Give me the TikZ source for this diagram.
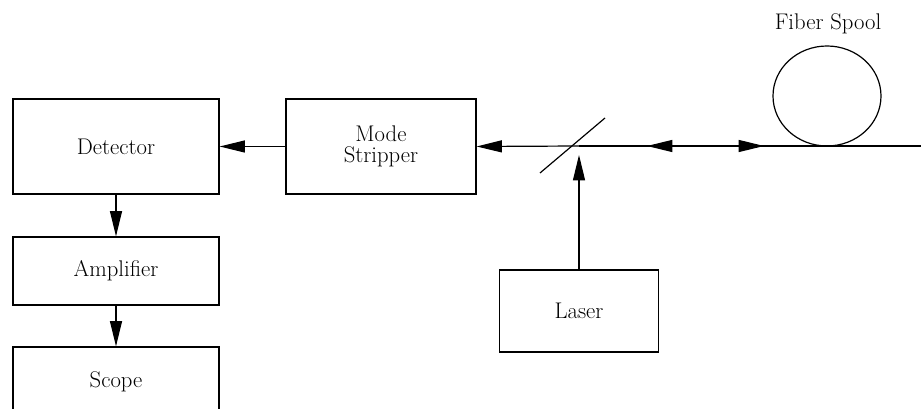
\documentclass[tikz,border=0pt]{standalone}
\usetikzlibrary{arrows.meta}
\begin{document}
\begin{tikzpicture}[x=0.75pt,y=-0.75pt,line width=0.9pt,
  lbl/.style={font=\fontsize{17}{15.5}\selectfont},
  box/.style={draw,inner sep=0pt,align=center,lbl},
  tri/.style={-{Triangle[length=19pt,width=9pt]}}]
\useasboundingbox (0,0) rectangle (921,409);
\clip (0,0) rectangle (921,409);
\node[box,minimum width=154.5pt,minimum height=71.25pt] (det) at (116,146.5) {Detector};
\node[box,minimum width=142.5pt,minimum height=71.25pt] (mode) at (381,146.5) {Mode\\Stripper};
\node[box,minimum width=154.5pt,minimum height=51pt] (amp) at (116,271) {Amplifier};
\node[box,minimum width=154.5pt,minimum height=52.5pt] (scope) at (116,382) {Scope};
\node[box,minimum width=119.25pt,minimum height=61.5pt] (laser) at (579,311) {Laser};
\coordinate (m) at (579,146);
\coordinate (ma) at (540,173);
\coordinate (mb) at (605,118);
\coordinate (lt) at (579,155);
\coordinate (dm) at (705,146);
\coordinate (dl) at (647,146);
\coordinate (dr) at (764,146);
\coordinate (fend) at (921,146);
\draw (ma) -- (mb);
\draw[tri] (mode.west) -- (det.east);
\draw[tri] (det.south) -- (amp.north);
\draw[tri] (amp.south) -- (scope.north);
\draw[tri] (m) -- (mode.east);
\draw[tri] (laser.north) -- (lt);
\draw (m) -- (fend);
\draw[tri] (dm) -- (dl);
\draw[tri] (dm) -- (dr);
\draw (827,96) ellipse [x radius=54, y radius=50];
\node[lbl] (spool) at (828,24) {Fiber Spool};
\end{tikzpicture}
\end{document}
